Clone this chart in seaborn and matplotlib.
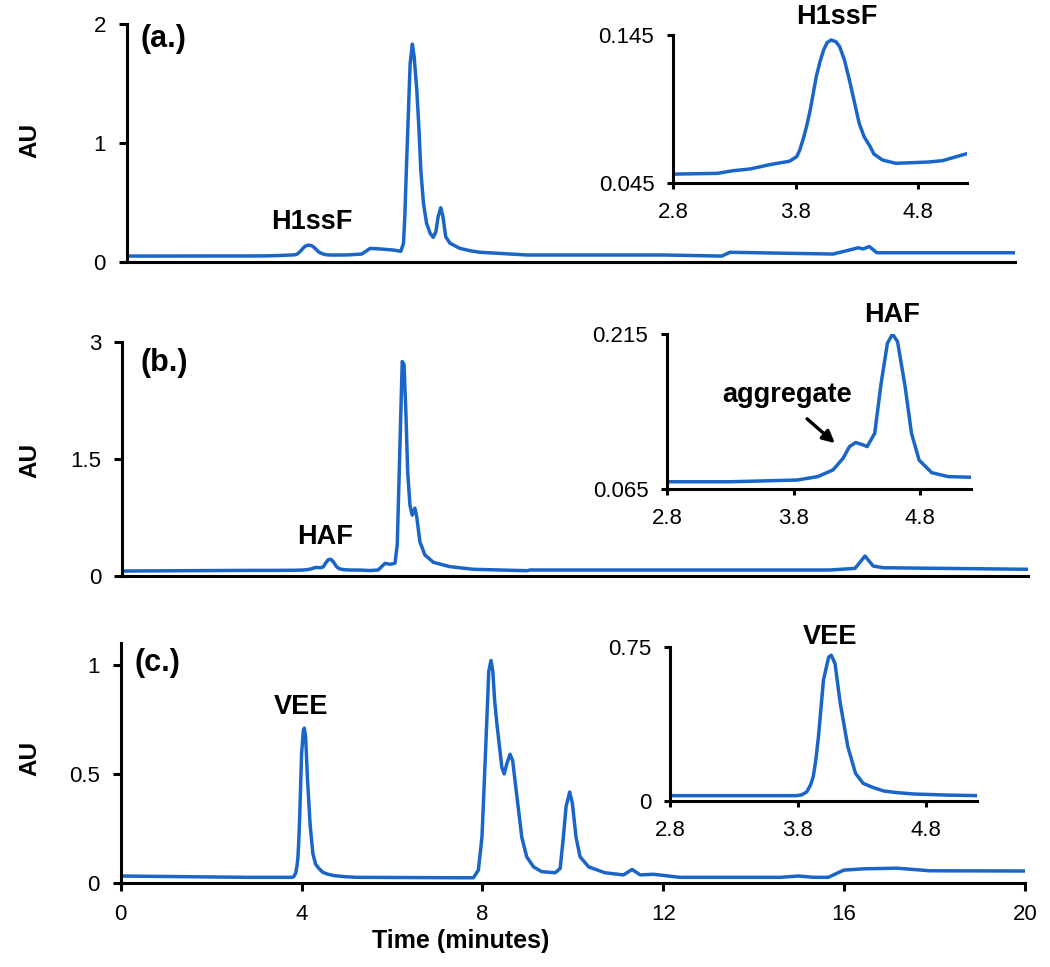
import pandas as pd
import matplotlib.pyplot as plt
import seaborn as sns

sns.set_theme(style="white")
plt.rcParams['font.family'] = ['Liberation Sans', 'DejaVu Sans']

# Chromatogram traces (time in minutes, absorbance in AU)
time_a = [0, 2.8, 3.16, 3.29, 3.43, 3.59, 3.75, 3.81, 3.835, 3.86, 3.89, 3.92, 3.945,
          3.97, 4.0, 4.03, 4.058, 4.09, 4.13, 4.16, 4.2, 4.24, 4.28, 4.32, 4.36, 4.41,
          4.44, 4.51, 4.62, 4.89, 5.0, 5.19, 5.29, 5.48, 5.70, 6.00, 6.17,
          6.23, 6.26, 6.30, 6.34, 6.38, 6.43, 6.47, 6.53, 6.58, 6.62, 6.68, 6.75, 6.83,
          6.90, 6.96, 7.01, 7.07, 7.12, 7.18, 7.28, 7.50, 7.73, 7.95, 9.02, 12.07, 13.40,
          13.58, 15.08, 15.90, 16.21, 16.47, 16.58, 16.72, 16.89, 20]
au_a = [0.050, 0.051, 0.0515, 0.0533, 0.0545, 0.0574, 0.0597, 0.0628, 0.0673, 0.074,
        0.083, 0.0943, 0.1056, 0.117, 0.127, 0.135, 0.1398, 0.1416, 0.1405, 0.1372,
        0.128, 0.1146, 0.100, 0.0853, 0.0763, 0.0695, 0.0646, 0.0605, 0.0583, 0.0592,
        0.0601, 0.0646, 0.067, 0.115, 0.110, 0.101, 0.090, 0.157, 0.38, 0.83, 1.25, 1.67,
        1.835, 1.73, 1.45, 1.11, 0.775, 0.494, 0.326, 0.242, 0.208, 0.255, 0.381, 0.457,
        0.381, 0.213, 0.157, 0.115, 0.095, 0.082, 0.059, 0.059, 0.050, 0.082, 0.072,
        0.067, 0.095, 0.12, 0.11, 0.13, 0.078, 0.078]

time_b = [0, 2.81, 3.3, 3.83, 3.99, 4.11, 4.19, 4.24, 4.29, 4.35, 4.38, 4.44, 4.49, 4.54,
          4.58, 4.62, 4.68, 4.73, 4.79, 4.89, 5.02, 5.22, 5.47, 5.65, 5.80, 5.91, 6.02,
          6.07, 6.11, 6.15, 6.18, 6.22, 6.26, 6.30, 6.35, 6.40, 6.46, 6.50, 6.57, 6.68,
          6.87, 7.23, 7.75, 8.94, 9.0, 15.63, 16.18, 16.40, 16.58, 16.80, 20]
au_b = [0.064, 0.072, 0.072, 0.0737, 0.077, 0.0834, 0.0947, 0.106, 0.110, 0.1076, 0.106,
        0.119, 0.167, 0.206, 0.215, 0.2076, 0.164, 0.119, 0.093, 0.0808, 0.077, 0.0763,
        0.07, 0.077, 0.163, 0.15, 0.163, 0.40, 1.25, 2.11, 2.75, 2.71, 2.11, 1.34, 0.91,
        0.78, 0.87, 0.76, 0.44, 0.27, 0.175, 0.12, 0.086, 0.068, 0.077, 0.077, 0.098,
        0.256, 0.128, 0.106, 0.086]

time_c = [0, 2.81, 3.79, 3.83, 3.87, 3.90, 3.92, 3.94, 3.96, 4.00, 4.04, 4.06, 4.09,
          4.13, 4.19, 4.25, 4.31, 4.39, 4.47, 4.57, 4.71, 4.96, 5.21, 7.40, 7.80, 7.91,
          7.99, 8.04, 8.10, 8.14, 8.19, 8.23, 8.27, 8.32, 8.38, 8.43, 8.48, 8.54, 8.61,
          8.67, 8.72, 8.80, 8.87, 8.98, 9.13, 9.31, 9.61, 9.72, 9.79, 9.85, 9.93, 9.99,
          10.07, 10.16, 10.35, 10.71, 11.12, 11.31, 11.49, 11.78, 12.37, 14.59, 14.99,
          15.32, 15.65, 15.99, 16.43, 17.17, 17.90, 20]
au_c = [0.032, 0.026, 0.026, 0.030, 0.045, 0.08, 0.119, 0.20, 0.31, 0.59, 0.70, 0.71,
        0.67, 0.48, 0.265, 0.135, 0.086, 0.065, 0.049, 0.041, 0.034, 0.029, 0.026, 0.024,
        0.024, 0.059, 0.21, 0.455, 0.76, 0.97, 1.02, 0.97, 0.836, 0.73, 0.62, 0.53, 0.50,
        0.547, 0.59, 0.56, 0.47, 0.333, 0.21, 0.12, 0.074, 0.052, 0.047, 0.067, 0.21,
        0.35, 0.417, 0.364, 0.21, 0.12, 0.074, 0.047, 0.037, 0.062, 0.037, 0.040, 0.026,
        0.026, 0.032, 0.026, 0.026, 0.059, 0.065, 0.068, 0.056, 0.055]

panel_labels = ['(a.)', '(b.)', '(c.)']
peak_names = ['H1ssF', 'HAF', 'VEE']
main_ylims = [(0, 2), (0, 3), (0, 1.1)]
main_yticks = [[0, 1, 2], [0, 1.5, 3], [0, 0.5, 1]]
main_yticklabels = [['0', '1', '2'], ['0', '1.5', '3'], ['0', '0.5', '1']]
inset_ylims = [(0.045, 0.145), (0.065, 0.215), (0, 0.75)]
inset_yticklabels = [['0.045', '0.145'], ['0.065', '0.215'], ['0', '0.75']]
inset_xticks = [2.8, 3.8, 4.8]
main_xticks = [0, 4, 8, 12, 16, 20]

W, H = 1050, 967
line_color = '#1a66c8'


def box(left, right, top, bottom):
    return [left / W, 1 - bottom / H, (right - left) / W, (bottom - top) / H]


main_boxes = [box(126.8, 1015, 24.5, 262), box(122.4, 1028, 342, 576),
              box(120.7, 1025, 643, 883)]
inset_boxes = [box(673, 967, 35, 183), box(667, 971, 334, 489), box(670, 977, 647, 801)]

traces = [(time_a, au_a), (time_b, au_b), (time_c, au_c)]

fig = plt.figure(figsize=(W / 100, H / 100), dpi=100)
fig.patch.set_facecolor('white')


def style_axes(ax, tick_len):
    ax.set_facecolor('none')
    for side in ['top', 'right']:
        ax.spines[side].set_visible(False)
    for side in ['left', 'bottom']:
        ax.spines[side].set_color('black')
        ax.spines[side].set_linewidth(2.2)
    ax.tick_params(axis='both', which='both', direction='out', length=tick_len, width=2.2,
                   color='black', labelsize=16, labelcolor='black', pad=9,
                   left=True, bottom=True)
    ax.grid(False)
    ax.set_xlabel('')
    ax.set_ylabel('')


line_kw = dict(color=line_color, linewidth=2.5, estimator=None,
               solid_joinstyle='round', solid_capstyle='round')

for i in range(3):
    t, au = traces[i]
    df = pd.DataFrame({'Time': t, 'AU': au})

    ax = fig.add_axes(main_boxes[i])
    sns.lineplot(data=df, x='Time', y='AU', ax=ax, **line_kw)
    style_axes(ax, 6)
    ax.set_xlim(0, 20)
    ax.set_ylim(*main_ylims[i])
    ax.set_yticks(main_yticks[i])
    ax.set_yticklabels(main_yticklabels[i])
    if i < 2:
        ax.set_xticks([])
    else:
        ax.set_xticks(main_xticks)
        ax.set_xticklabels([str(v) for v in main_xticks])

    ins = fig.add_axes(inset_boxes[i])
    sns.lineplot(data=df, x='Time', y='AU', ax=ins, **line_kw)
    style_axes(ins, 4.5)
    ins.set_xlim(2.8, 5.2)
    ins.set_ylim(*inset_ylims[i])
    ins.set_yticks(list(inset_ylims[i]))
    ins.set_yticklabels(inset_yticklabels[i])
    ins.set_xticks(inset_xticks)
    ins.set_xticklabels(['2.8', '3.8', '4.8'])


# Text annotations (pixel positions in figure)
def ftext(x, y, s, **kw):
    fig.text(x / W, 1 - y / H, s, **kw)


bold = dict(fontweight='bold', color='black')
for (x, y), s in zip([(141, 39), (141, 363), (135, 663)], panel_labels):
    ftext(x, y, s, fontsize=22, ha='left', va='center', **bold)
for y in [140, 460, 758]:
    ftext(30, y, 'AU', fontsize=17.5, rotation=90, ha='center', va='center', **bold)

for (x, y), s in zip([(312, 222), (325, 537), (301, 707)], peak_names):
    ftext(x, y, s, fontsize=19.5, ha='center', va='center', **bold)
for (x, y), s in zip([(837, 17), (892, 315), (830, 637)], peak_names):
    ftext(x, y, s, fontsize=19.5, ha='center', va='center', **bold)

ftext(787, 395, 'aggregate', fontsize=19.5, ha='center', va='center', **bold)
fig.add_artist(plt.Annotation('', xy=(837 / W, 1 - 445 / H), xytext=(805 / W, 1 - 417 / H),
                              xycoords='figure fraction', textcoords='figure fraction',
                              arrowprops=dict(arrowstyle='-|>', color='black', lw=2.4,
                                              mutation_scale=18)))

ftext(461, 941, 'Time (minutes)', fontsize=18, ha='center', va='center', **bold)

fig.savefig('out.png', dpi=100, facecolor='white')
